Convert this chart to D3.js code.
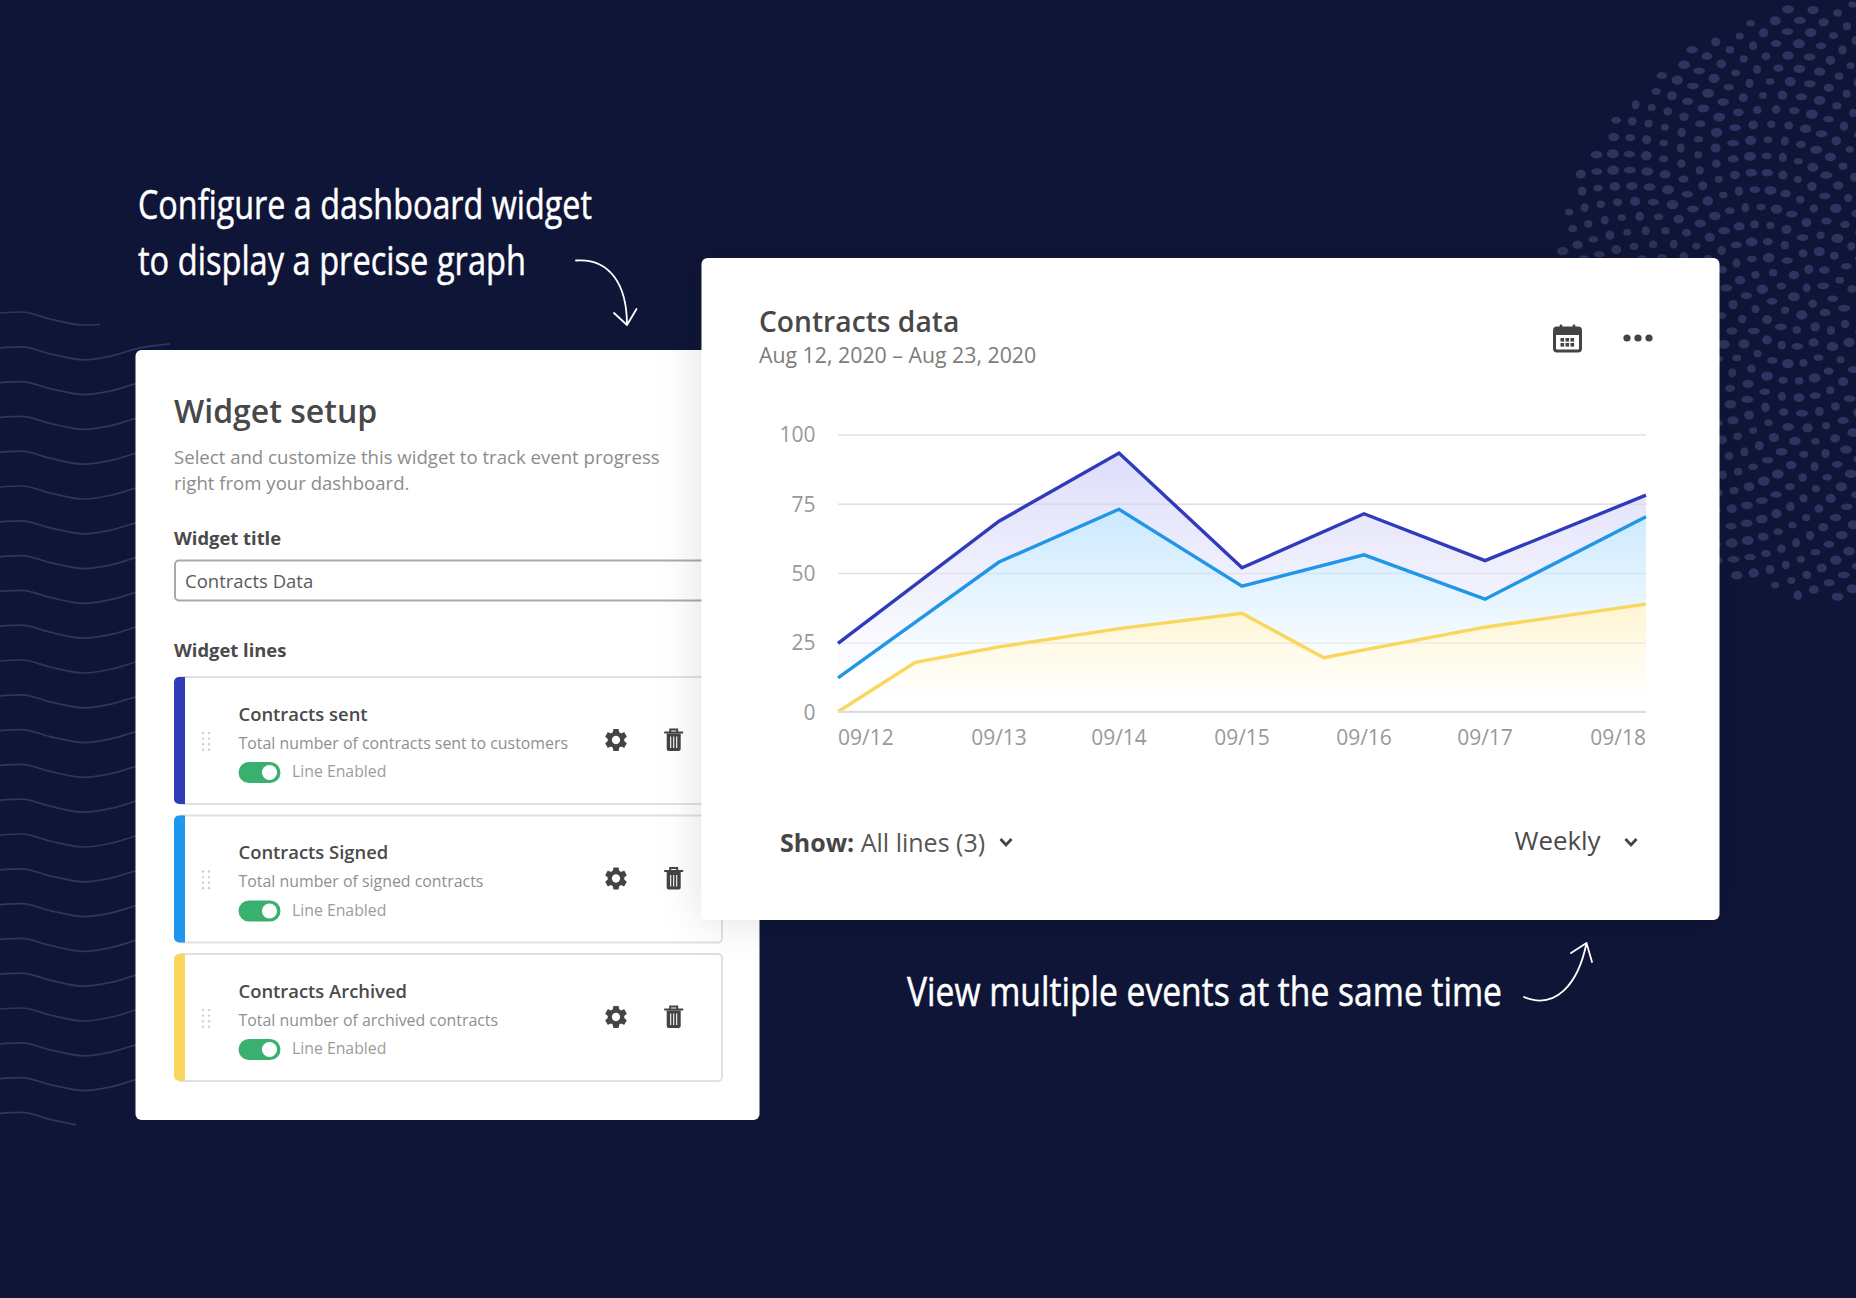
<!DOCTYPE html>
<html>
<head>
<meta charset="utf-8">
<style>
  html, body { margin: 0; padding: 0; background: #0f1537; }
  svg { display: block; }
  text { font-family: "Open Sans", sans-serif; }
</style>
<script src="https://cdnjs.cloudflare.com/ajax/libs/d3/7.8.5/d3.min.js"></script>
</head>
<body>
<div id="chart"></div>
<script>
// chart data
const dayLabels = ["09/12", "09/13", "09/14", "09/15", "09/16", "09/17", "09/18"];
const dayTicks = [0, 1, 2, 3, 4, 5, 6];
const yTicks = [0, 25, 50, 75, 100];
const sentDays = [0, 1, 2, 3, 4, 5, 6];
const sentValues = [24.7, 68.7, 93.3, 51.9, 71.4, 54.5, 78.1];
const signedDays = [0, 1, 2, 3, 4, 5, 6];
const signedValues = [12.2, 54, 73, 45.3, 56.6, 40.6, 70.3];
const archivedDays = [0, 0.48, 1, 2, 3, 3.67, 4, 5, 6];
const archivedValues = [0, 17.8, 23.4, 30, 35.5, 19.5, 22.3, 30.5, 38.8];

const rowTitles = ["Contracts sent", "Contracts Signed", "Contracts Archived"];
const rowDescs = [
  "Total number of contracts sent to customers",
  "Total number of signed contracts",
  "Total number of archived contracts"
];
const rowColors = ["#2f3bb8", "#2196f0", "#f9d65c"];

const GEAR = "M19.14,12.94c0.04-0.3,0.06-0.61,0.06-0.94c0-0.32-0.02-0.64-0.07-0.94l2.03-1.58c0.18-0.14,0.23-0.41,0.12-0.61l-1.92-3.32c-0.12-0.22-0.37-0.29-0.59-0.22l-2.39,0.96c-0.5-0.38-1.03-0.7-1.62-0.94L14.4,2.81c-0.04-0.24-0.24-0.41-0.48-0.41h-3.84c-0.24,0-0.43,0.17-0.47,0.41L9.25,5.35C8.66,5.59,8.12,5.92,7.63,6.29L5.24,5.33c-0.22-0.08-0.47,0-0.59,0.22L2.74,8.87C2.62,9.08,2.66,9.34,2.86,9.48l2.03,1.58C4.84,11.36,4.8,11.69,4.8,12s0.02,0.64,0.07,0.94l-2.03,1.58c-0.18,0.14-0.23,0.41-0.12,0.61l1.92,3.32c0.12,0.22,0.37,0.29,0.59,0.22l2.39-0.96c0.5,0.38,1.03,0.7,1.62,0.94l0.36,2.54c0.05,0.24,0.24,0.41,0.48,0.41h3.84c0.24,0,0.44-0.17,0.47-0.41l0.36-2.54c0.59-0.24,1.13-0.56,1.62-0.94l2.39,0.96c0.22,0.08,0.47,0,0.59-0.22l1.92-3.32c0.12-0.22,0.07-0.47-0.12-0.61L19.14,12.94z M12,15.6c-1.98,0-3.6-1.62-3.6-3.6s1.62-3.6,3.6-3.6s3.6,1.62,3.6,3.6S13.98,15.6,12,15.6z";
const ICON = "#444444";

const svg = d3.select("#chart").append("svg").attr("width", 1856).attr("height", 1298);
const defs = svg.append("defs");

svg.append("rect").attr("width", 1856).attr("height", 1298).attr("fill", "#0f1537");

// background: dot swirl top right
const dotG = svg.append("g").attr("fill", "#2c345f");
d3.range(1, 1040).forEach((i) => {
  const r = 9.3 * Math.sqrt(i);
  const a = i * 2.39996;
  dotG.append("ellipse")
    .attr("cx", 1851 + r * Math.cos(a))
    .attr("cy", 302 + r * Math.sin(a))
    .attr("rx", 5 + 1 * Math.sin(i * 1.7))
    .attr("ry", 4 + 0.7 * Math.cos(i * 2.3));
});

// background: wavy lines on the left
const wave = d3.line().curve(d3.curveMonotoneX);
d3.range(24).forEach((i) => {
  const y0 = 312 + i * 34.8;
  const endX = i === 0 ? 100 : i === 23 ? 76 : 170;
  const pts = [[0, y0 + 1], [22, y0], [50, y0 + 7], [84, y0 + 13], [112, y0 + 9], [140, y0 + 1], [170, y0 - 3]]
    .filter((p) => p[0] <= endX);
  if (endX < 170) pts.push([endX, y0 + 12.5]);
  svg.append("path").attr("d", wave(pts)).attr("fill", "none")
    .attr("stroke", "#2e3561").attr("stroke-width", 1.7);
});

// shadow used by the right card
const shadow = defs.append("filter").attr("id", "cardShadow")
  .attr("x", "-15%").attr("y", "-15%").attr("width", "130%").attr("height", "130%");
shadow.append("feDropShadow").attr("dx", 0).attr("dy", 0)
  .attr("stdDeviation", 22).attr("flood-color", "#000").attr("flood-opacity", 0.12);

// ---- left card ----
svg.append("rect").attr("x", 135.5).attr("y", 350).attr("width", 624).attr("height", 770)
  .attr("rx", 6).attr("fill", "#fff");

function label(parent, x, y, str, size, color, weight) {
  return parent.append("text").attr("x", x).attr("y", y).text(str)
    .attr("font-size", size).attr("fill", color).attr("font-weight", weight || 400);
}

label(svg, 174, 422.5, "Widget setup", 32, "#484848", 600);
label(svg, 174, 463.5, "Select and customize this widget to track event progress", 18.6, "#8c8c8c");
label(svg, 174, 490, "right from your dashboard.", 18.6, "#8c8c8c");
label(svg, 174, 545, "Widget title", 18.4, "#4a4a4a", 700);
svg.append("rect").attr("x", 175).attr("y", 560.5).attr("width", 600).attr("height", 40)
  .attr("rx", 4).attr("fill", "#fff").attr("stroke", "#a9a9a9").attr("stroke-width", 2);
label(svg, 185, 588, "Contracts Data", 18.5, "#5a5a5a");
label(svg, 174, 656.5, "Widget lines", 18.4, "#4a4a4a", 700);

rowTitles.forEach((title, i) => {
  const top = 677 + i * 138.5;
  const g = svg.append("g").attr("transform", `translate(0,${top})`);
  g.append("rect").attr("x", 178).attr("y", 0).attr("width", 544).attr("height", 127)
    .attr("rx", 4).attr("fill", "#fff").attr("stroke", "#e0e0e0").attr("stroke-width", 2);
  g.append("path")
    .attr("d", "M185,0H179a5,5 0 0 0 -5,5V122a5,5 0 0 0 5,5H185Z")
    .attr("fill", rowColors[i]);
  // drag handle
  d3.range(4).forEach((r) => [203, 209].forEach((dx) => {
    g.append("circle").attr("cx", dx).attr("cy", 56 + r * 5.6).attr("r", 1.2).attr("fill", "#d0d0d0");
  }));
  label(g, 238.5, 43.5, title, 18.4, "#4a4a4a", 600);
  label(g, 238.5, 71.5, rowDescs[i], 15.9, "#8f8f8f");
  g.append("rect").attr("x", 238.5).attr("y", 85).attr("width", 42).attr("height", 21)
    .attr("rx", 10.5).attr("fill", "#39b06e");
  g.append("circle").attr("cx", 269.5).attr("cy", 95.5).attr("r", 7.6).attr("fill", "#fff");
  label(g, 292, 100.3, "Line Enabled", 15.8, "#9c9c9c");
  g.append("path").attr("d", GEAR).attr("fill", ICON).attr("fill-rule", "evenodd")
    .attr("transform", "translate(602.2,49.2) scale(1.15)");
  // trash can
  const t = g.append("g").attr("transform", "translate(673.7,63)");
  t.append("path").attr("d", "M-9.5,-7.5H9.5M-3.5,-7.5V-10.5H3.5V-7.5").attr("fill", "none")
    .attr("stroke", ICON).attr("stroke-width", 2);
  t.append("path").attr("d", "M-7,-6.5H7V9a2,2 0 0 1 -2,2H-5a2,2 0 0 1 -2,-2Z").attr("fill", ICON);
  [-3, 0, 3].forEach((dx) => t.append("line").attr("x1", dx).attr("x2", dx).attr("y1", -3.5).attr("y2", 8)
    .attr("stroke", "#fff").attr("stroke-width", 1.1));
});

// ---- right card ----
svg.append("rect").attr("x", 701.5).attr("y", 258).attr("width", 1018).attr("height", 662)
  .attr("rx", 6).attr("fill", "#fff").attr("filter", "url(#cardShadow)");

label(svg, 759, 331.7, "Contracts data", 28.2, "#484848", 600);
label(svg, 759, 362.5, "Aug 12, 2020 – Aug 23, 2020", 21.3, "#7c7c7c");

// calendar icon
const cal = svg.append("g").attr("transform", "translate(1553,324)");
cal.append("rect").attr("x", 1.5).attr("y", 4).attr("width", 26).attr("height", 23).attr("rx", 2.5)
  .attr("fill", "none").attr("stroke", ICON).attr("stroke-width", 3);
cal.append("rect").attr("x", 1.5).attr("y", 4).attr("width", 26).attr("height", 7).attr("fill", ICON);
[8, 21].forEach((cx) => cal.append("rect").attr("x", cx - 1.3).attr("y", 0.5).attr("width", 2.6).attr("height", 6)
  .attr("rx", 1).attr("fill", ICON));
d3.range(3).forEach((c) => d3.range(2).forEach((r) => {
  cal.append("rect").attr("x", 7.5 + c * 5).attr("y", 14 + r * 5).attr("width", 3.6).attr("height", 3.6).attr("fill", ICON);
}));

// more dots
[1627, 1638, 1649].forEach((cx) => {
  svg.append("circle").attr("cx", cx).attr("cy", 338).attr("r", 3.6).attr("fill", ICON);
});

// ---- the chart ----
const x = d3.scaleLinear().domain(dayTicks).range([838, 999, 1119, 1242, 1364, 1485, 1646]);
const y = d3.scaleLinear().domain([0, 100]).range([711.8, 434.4]);

const yAxis = d3.axisLeft(y).tickValues(yTicks).tickSize(0).tickPadding(0);
const yG = svg.append("g").attr("transform", "translate(815.5,0.6)").call(yAxis);
yG.select(".domain").remove();
yG.selectAll("text").attr("font-size", 21).attr("fill", "#999").attr("font-family", "Open Sans");

// grid lines go under the fills, redrawn faintly over them below
const gridTicks = d3.axisLeft(y).tickValues(yTicks).tickSize(-(x.range()[6] - x.range()[0])).tickFormat("");
const grid = svg.append("g").attr("transform", `translate(${x.range()[0]},0)`).call(gridTicks);
grid.select(".domain").remove();
grid.selectAll("line").attr("stroke", "#eeeef1").attr("stroke-width", 1.5);

function fillGradient(id, color, from, to) {
  const grad = defs.append("linearGradient").attr("id", id)
    .attr("gradientUnits", "userSpaceOnUse")
    .attr("x1", 0).attr("x2", 0).attr("y1", y(from)).attr("y2", y(to));
  grad.append("stop").attr("offset", 0).attr("stop-color", color);
  grad.append("stop").attr("offset", 1).attr("stop-color", "#fff");
}
fillGradient("sentFill", "#dedefb", 93, 12);
fillGradient("signedFill", "#cbe9ff", 73, 14);
fillGradient("archivedFill", "#fff5d3", 38, 5);

const series = [
  { days: sentDays, values: sentValues, stroke: rowColors[0], fill: "url(#sentFill)" },
  { days: signedDays, values: signedValues, stroke: "#2196e6", fill: "url(#signedFill)" },
  { days: archivedDays, values: archivedValues, stroke: "#f9d65c", fill: "url(#archivedFill)" }
];
const area = d3.area().x((d) => x(d[0])).y0(y(0)).y1((d) => y(d[1]));
const line = d3.line().x((d) => x(d[0])).y((d) => y(d[1]));

series.forEach((s) => {
  const pts = d3.zip(s.days, s.values);
  svg.append("path").attr("d", area(pts)).attr("fill", s.fill);
});

// grid shows through the fills
const gridOver = svg.append("g").attr("transform", `translate(${x.range()[0]},0)`).call(gridTicks);
gridOver.select(".domain").remove();
gridOver.selectAll("line").attr("stroke", "#9a9ab0").attr("stroke-opacity", 0.16).attr("stroke-width", 1.5);

series.forEach((s) => {
  const pts = d3.zip(s.days, s.values);
  svg.append("path").attr("d", line(pts)).attr("fill", "none")
    .attr("stroke", s.stroke).attr("stroke-width", 3.4).attr("stroke-linejoin", "miter");
});

const xAxis = d3.axisBottom(x).tickValues(dayTicks).tickSize(0).tickPadding(0)
  .tickFormat((d) => dayLabels[d]);
const xG = svg.append("g").attr("transform", "translate(-0.5,729.8)").call(xAxis);
xG.select(".domain").remove();
xG.selectAll("text").attr("font-size", 21).attr("fill", "#999").attr("font-family", "Open Sans")
  .attr("text-anchor", (d, i) => (i === 0 ? "start" : i === 6 ? "end" : "middle"));
svg.append("line").attr("x1", x.range()[0]).attr("x2", x.range()[6]).attr("y1", y(0)).attr("y2", y(0))
  .attr("stroke", "#dcdcdc").attr("stroke-width", 2);

// footer controls
const show = svg.append("text").attr("x", 780).attr("y", 851.5).attr("font-size", 25).attr("fill", "#555");
show.append("tspan").attr("font-weight", 700).attr("fill", "#454545").text("Show:");
show.append("tspan").text(" All lines (3)");
label(svg, 1514.5, 850, "Weekly", 25.9, "#4a4a4a", 500);
[1006, 1631].forEach((cx) => {
  svg.append("path").attr("d", `M${cx - 5.5},${839}L${cx},${845}L${cx + 5.5},${839}`)
    .attr("fill", "none").attr("stroke", "#444").attr("stroke-width", 2.8);
});

// ---- handwritten captions ----
function caption(xPos, yPos, str, width) {
  svg.append("text").attr("x", xPos).attr("y", yPos).text(str)
    .attr("font-family", "Lato").attr("font-size", 41).attr("font-weight", 400)
    .attr("fill", "#fff").attr("stroke", "#fff").attr("stroke-width", 0.5)
    .attr("textLength", width).attr("lengthAdjust", "spacingAndGlyphs");
}
caption(138, 219, "Configure a dashboard widget", 454);
caption(138, 275, "to display a precise graph", 388);
caption(907, 1006, "View multiple events at the same time", 595);

const arrow = svg.append("g").attr("fill", "none").attr("stroke", "#fff").attr("stroke-width", 1.8)
  .attr("stroke-linecap", "round").attr("stroke-linejoin", "round");
arrow.append("path").attr("d", "M576,260.5C610,258 627,285 627,325M614,313L627,325L636.5,309");
arrow.append("path").attr("d", "M1524,997C1555,1010 1578,985 1586.5,943M1571,953L1586.5,943L1592,962");
</script>
</body>
</html>
